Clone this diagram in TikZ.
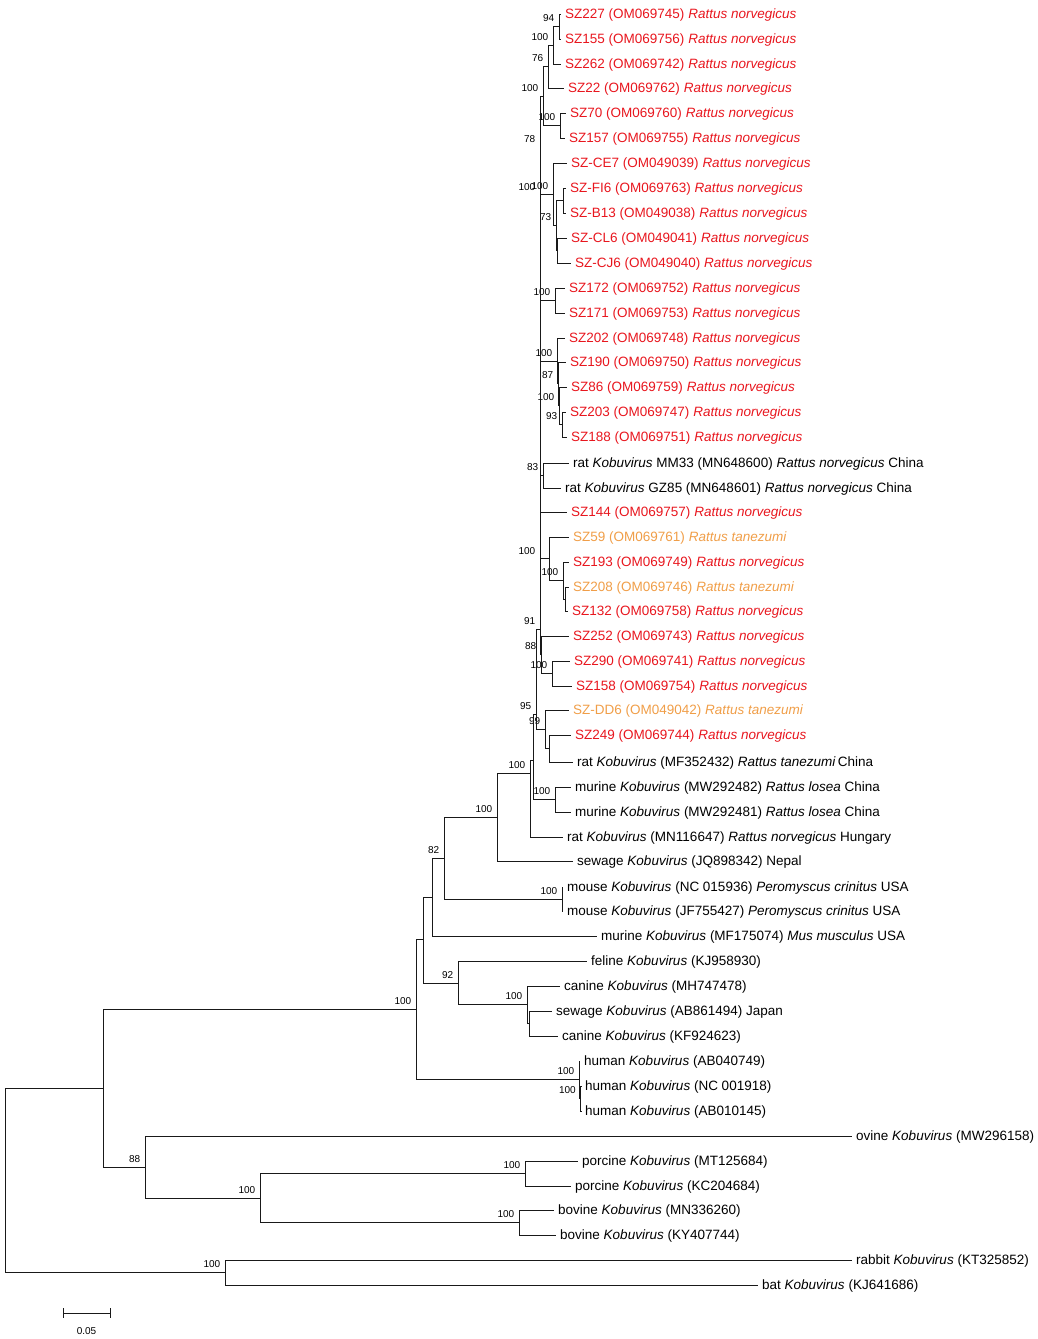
\documentclass[tikz,border=0pt]{standalone}
\usepackage{fontspec}
\setmainfont{Liberation Sans}
\usetikzlibrary{positioning}
\definecolor{ratred}{RGB}{232,22,30}
\definecolor{tanorange}{RGB}{240,158,72}
\tikzset{leaf/.style={anchor=west,inner xsep=4pt,inner ysep=1pt,text height=9.7pt,text depth=0pt,
                      font=\fontsize{13.5}{15}\selectfont},
         inner/.style={inner sep=0pt,minimum size=0pt},
         boot/.style={font=\fontsize{10}{11}\selectfont,inner sep=3pt,text=black},
         branch/.style={draw=black!90,line width=1pt},
}

\begin{document}
\begin{tikzpicture}[x=1pt,y=-1pt,label distance=2pt]

\useasboundingbox (0,0) rectangle (1038,1339);
% \draw[help lines,step=50] (0,0) grid (1038,1339);

% taxa
\foreach \lname/\lx/\ly/\lc/\lt in {
  l227/561/14/ratred/{SZ227 (OM069745) \textit{Rattus norvegicus}},
  l155/561/39/ratred/{SZ155 (OM069756) \textit{Rattus norvegicus}},
  l262/561/64/ratred/{SZ262 (OM069742) \textit{Rattus norvegicus}},
  l22/564/88/ratred/{SZ22 (OM069762) \textit{Rattus norvegicus}},
  l70/566/113/ratred/{SZ70 (OM069760) \textit{Rattus norvegicus}},
  l157/565/138/ratred/{SZ157 (OM069755) \textit{Rattus norvegicus}},
  lce7/567/163/ratred/{SZ-CE7 (OM049039) \textit{Rattus norvegicus}},
  lfi6/566/188/ratred/{SZ-FI6 (OM069763) \textit{Rattus norvegicus}},
  lb13/566/213/ratred/{SZ-B13 (OM049038) \textit{Rattus norvegicus}},
  lcl6/567/238/ratred/{SZ-CL6 (OM049041) \textit{Rattus norvegicus}},
  lcj6/571/263/ratred/{SZ-CJ6 (OM049040) \textit{Rattus norvegicus}},
  l172/565/288/ratred/{SZ172 (OM069752) \textit{Rattus norvegicus}},
  l171/565/313/ratred/{SZ171 (OM069753) \textit{Rattus norvegicus}},
  l202/565/338/ratred/{SZ202 (OM069748) \textit{Rattus norvegicus}},
  l190/566/362/ratred/{SZ190 (OM069750) \textit{Rattus norvegicus}},
  l86/567/387/ratred/{SZ86 (OM069759) \textit{Rattus norvegicus}},
  l203/566/412/ratred/{SZ203 (OM069747) \textit{Rattus norvegicus}},
  l188/567/437/ratred/{SZ188 (OM069751) \textit{Rattus norvegicus}},
  lmm33/569/463/black/{rat \textit{Kobuvirus} MM33 (MN648600) \textit{Rattus norvegicus} China},
  lgz85/561/488/black/{rat \textit{Kobuvirus} GZ85 (MN648601) \textit{Rattus norvegicus} China},
  l144/567/512/ratred/{SZ144 (OM069757) \textit{Rattus norvegicus}},
  l59/569/537/tanorange/{SZ59 (OM069761) \textit{Rattus tanezumi}},
  l193/569/562/ratred/{SZ193 (OM069749) \textit{Rattus norvegicus}},
  l208/569/587/tanorange/{SZ208 (OM069746) \textit{Rattus tanezumi}},
  l132/568/611/ratred/{SZ132 (OM069758) \textit{Rattus norvegicus}},
  l252/569/636/ratred/{SZ252 (OM069743) \textit{Rattus norvegicus}},
  l290/570/661/ratred/{SZ290 (OM069741) \textit{Rattus norvegicus}},
  l158/572/686/ratred/{SZ158 (OM069754) \textit{Rattus norvegicus}},
  ldd6/569/710/tanorange/{SZ-DD6 (OM049042) \textit{Rattus tanezumi}},
  l249/571/735/ratred/{SZ249 (OM069744) \textit{Rattus norvegicus}},
  lmf35/573/762/black/{rat \textit{Kobuvirus} (MF352432) \textit{Rattus tanezumi}\,China},
  lmw82/571/787/black/{murine \textit{Kobuvirus} (MW292482) \textit{Rattus losea} China},
  lmw81/571/812/black/{murine \textit{Kobuvirus} (MW292481) \textit{Rattus losea} China},
  lmn11/563/837/black/{rat \textit{Kobuvirus} (MN116647) \textit{Rattus norvegicus} Hungary},
  ljq/573/861/black/{sewage \textit{Kobuvirus} (JQ898342) Nepal},
  lnc01/563/887/black/{mouse \textit{Kobuvirus} (NC 015936) \textit{Peromyscus crinitus} USA},
  ljf/563/911/black/{mouse \textit{Kobuvirus} (JF755427) \textit{Peromyscus crinitus} USA},
  lmf17/597/936/black/{murine \textit{Kobuvirus} (MF175074) \textit{Mus musculus} USA},
  lkj9/587/961/black/{feline \textit{Kobuvirus} (KJ958930)},
  lmh/560/986/black/{canine \textit{Kobuvirus} (MH747478)},
  lab86/552/1011/black/{sewage \textit{Kobuvirus} (AB861494) Japan},
  lkf/558/1036/black/{canine \textit{Kobuvirus} (KF924623)},
  lab04/580/1061/black/{human \textit{Kobuvirus} (AB040749)},
  lnc00/581/1086/black/{human \textit{Kobuvirus} (NC 001918)},
  lab01/581/1111/black/{human \textit{Kobuvirus} (AB010145)},
  lmw96/852/1136/black/{ovine \textit{Kobuvirus} (MW296158)},
  lmt/578/1161/black/{porcine \textit{Kobuvirus} (MT125684)},
  lkc/571/1186/black/{porcine \textit{Kobuvirus} (KC204684)},
  lmn33/554/1210/black/{bovine \textit{Kobuvirus} (MN336260)},
  lky/556/1235/black/{bovine \textit{Kobuvirus} (KY407744)},
  lkt/852/1260/black/{rabbit \textit{Kobuvirus} (KT325852)},
  lkj6/758/1285/black/{bat \textit{Kobuvirus} (KJ641686)}}
  \node[leaf,text=\lc] (\lname) at (\lx,\ly) {\lt};

% internal nodes with bootstrap values
\foreach \nn/\nx/\ny/\nb in {
  n1/559/26.5/94, n2/553/45.25/100, n3/548/66.6/76, n4/560/125.5/100,
  n5/543/96/100, b78/540/147/78, b100a/540/195/100, c1/553/194.25/100,
  c2/556/225.5/73, n172/555/300.5/100, d1/557/361/100, d2/558/383.9/87,
  d3/559/405.75/100, d4/562/424.5/93, n83/543/475.5/83, b100b/540/559/100,
  s2/563/580.5/100, b91/540/629/91, g1/541/654.75/88, g2/552/673.5/100,
  b95/536/714/95, h1/545/729/99, r100/530/773/100, m1/555/799.5/100,
  rat/497/817/100, n82/444/858/82, mo/562/899/100, n92/458/983/92,
  k1/527/1004.75/100, big/416/1009.5/100, u1/579/1079.75/100, u2/580.5/1098.5/100,
  p1/525/1173.5/100, p2/519/1222.5/100, p0/260/1198/100, o88/145/1167/88,
  rb/225/1272.5/100}
  \node[inner,label={[boot]above left:\nb}] (\nn) at (\nx,\ny) {};

% internal nodes without values
\foreach \nn/\nx/\ny in {
  c3/563/200.5, c4/557/250.5, bE/540/400, bC/540/500, s1/549/558.75,
  s3/565/599, h2/549/748.5, nx/533/760, nB/432/897, nA/423/939.5,
  k2/529/1023.5, n103/103/1088, root/5/1180}
  \node[inner] (\nn) at (\nx,\ny) {};

% branches
\foreach \p/\c in {
  root/n103, root/rb, rb/lkt, rb/lkj6,
  n103/big, n103/o88, o88/lmw96, o88/p0, p0/p1, p0/p2,
  p1/lmt, p1/lkc, p2/lmn33, p2/lky,
  big/nA, big/u1, u1/lab04, u1/u2, u2/lnc00, u2/lab01,
  nA/nB, nA/n92, n92/lkj9, n92/k1, k1/lmh, k1/k2, k2/lab86, k2/lkf,
  nB/n82, nB/lmf17, n82/rat, n82/mo, mo/lnc01, mo/ljf,
  rat/r100, rat/ljq, r100/nx, r100/lmn11, nx/b95, nx/m1, m1/lmw82, m1/lmw81,
  b95/b91, b95/h1, h1/ldd6, h1/h2, h2/l249, h2/lmf35,
  b91/b100b, b91/g1, g1/l252, g1/g2, g2/l290, g2/l158,
  b100b/bC, b100b/s1, s1/l59, s1/s2, s2/l193, s2/s3, s3/l208, s3/l132,
  bC/bE, bC/n83, bC/l144, n83/lmm33, n83/lgz85,
  bE/b100a, bE/n172, bE/d1, n172/l172, n172/l171,
  d1/l202, d1/d2, d2/l190, d2/d3, d3/l86, d3/d4, d4/l203, d4/l188,
  b100a/b78, b100a/c1, c1/lce7, c1/c2, c2/c3, c2/c4,
  c3/lfi6, c3/lb13, c4/lcl6, c4/lcj6,
  b78/n5, n5/n3, n5/n4, n4/l70, n4/l157, n3/n2, n3/l22,
  n2/n1, n2/l262, n1/l227, n1/l155}
  \draw[branch] (\p.center) |- (\c.west);

% scale bar
\coordinate (sb0) at (63,1313);
\coordinate (sb1) at (110,1313);
\draw[branch] (sb0) -- (sb1);
\draw[branch] ([yshift=5pt]sb0) -- ([yshift=-5pt]sb0);
\draw[branch] ([yshift=5pt]sb1) -- ([yshift=-5pt]sb1);
\node[boot,below=11pt of sb0,xshift=23.5pt] (sblabel) {0.05};

\end{tikzpicture}
\end{document}
